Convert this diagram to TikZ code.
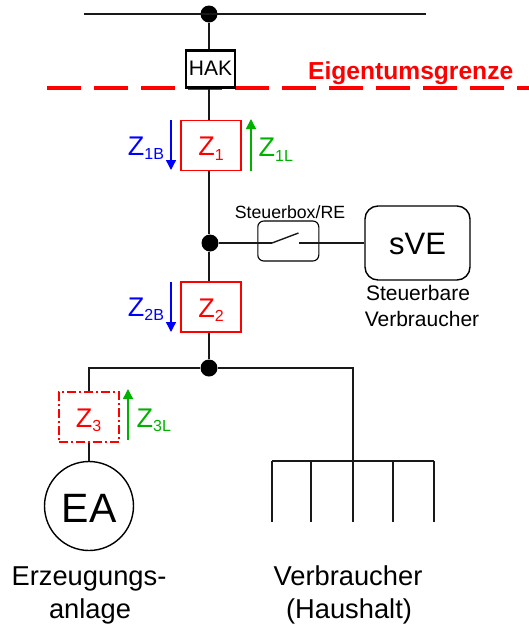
\documentclass[tikz,border=0pt]{standalone}
\usepackage{fontspec}
\setmainfont{Liberation Sans}
\usetikzlibrary{arrows.meta}

\newcommand{\fsize}[1]{\fontsize{#1}{#1}\selectfont}
\newcommand{\zname}[2]{\fsize{27}Z\raisebox{-4.5pt}{\fsize{16}#2}}

\begin{document}
\begin{tikzpicture}[x=1pt,y=-1pt,>={Triangle[length=10pt,width=10pt]},line width=1.4pt]
  \tikzset{every node/.style={font=\fsize{21},inner sep=0pt}}
  \tikzset{wire/.style={draw=black!90}}
  \tikzset{junction/.style={circle,fill=black,minimum size=17pt}}
  \tikzset{meter/.style={draw=red,line width=1.3pt,text=red,minimum width=60pt,minimum height=50pt,text height=20.5pt,text depth=0pt}}
  \tikzset{txt/.style={anchor=base}}
  \useasboundingbox (0,0) rectangle (529,625);

  % Eigentumsgrenze
  \coordinate (gridL) at (47,88);
  \coordinate (gridR) at (529,88);
  \draw[red,line width=4pt,dash pattern=on 34pt off 13pt] (gridL) -- (gridR);
  \node[txt,anchor=base west,text=red,font=\fsize{24.6}\bfseries] (border) at (307.5,79.5) {Eigentumsgrenze};

  % Hauptleitung
  \node[junction] (top) at (209,14) {};
  \coordinate (busL) at (84,14);
  \coordinate (busR) at (426,14);
  \node[draw,line width=2.4pt,minimum width=49pt,minimum height=37pt,text height=12pt,text depth=0pt] (hak) at (210.5,69) {HAK};
  \node[meter] (z1) at (211,145.5) {\zname{Z}{1}};
  \node[junction] (dota) at (210,243) {};
  \node[meter] (z2) at (211,307) {\zname{Z}{2}};
  \node[junction] (dotb) at (209,368) {};
  \path[wire] (busL) edge (busR);
  \path[wire] (top) edge (top |- hak.north);
  \path[wire] (top |- hak.south) edge (top |- z1.north);
  \path[wire] (top |- z1.south) edge (top |- dota.north);
  \path[wire] (top |- dota.south) edge (top |- z2.north);
  \path[wire] (top |- z2.south) edge (dotb);

  % Steuerbox
  \node[draw,rounded corners=6pt,line width=1.1pt,minimum width=61pt,minimum height=40pt] (box) at (288.3,241) {};
  \node[txt,font=\fsize{17.7}] (boxlabel) at (290,218) {Steuerbox/RE};
  \coordinate (swa) at (272,243);
  \coordinate (swb) at (298.5,233);
  \coordinate (swc) at (299,243);
  \node[draw,rounded corners=13pt,minimum width=105pt,minimum height=74pt,font=\fsize{31},text height=22pt,text depth=0pt] (sve) at (417.5,243) {sVE};
  \node[txt] (svetxta) at (418,300) {Steuerbare};
  \node[txt] (svetxtb) at (422,326) {Verbraucher};
  \path[wire] (dota) edge (swa);
  \path[wire] (swa) edge (swb);
  \path[wire] (swc) edge (sve.west);

  % Erzeugungsanlage
  \coordinate (cornerL) at (89,368);
  \coordinate (cornerR) at (353,368);
  \node[meter,dash pattern=on 9pt off 3pt on 2pt off 3pt,line width=2pt] (z3) at (88.5,417) {\zname{Z}{3}};
  \node[draw,circle,minimum size=89pt,font=\fsize{41},text height=33pt,text depth=0pt] (ea) at (89,506) {EA};
  \node[txt,font=\fsize{27.3}] (eatxta) at (89,585) {Erzeugungs-};
  \node[txt,font=\fsize{27.3}] (eatxtb) at (90,618) {anlage};
  \draw[wire] (dotb) -- (cornerL) -- (cornerL |- z3.north);
  \path[wire] (cornerL |- z3.south) edge (cornerL |- ea.north);

  % Verbraucher
  \coordinate (hha) at (272,461);
  \coordinate (hhb) at (311,461);
  \coordinate (hhc) at (353,461);
  \coordinate (hhd) at (393,461);
  \coordinate (hhe) at (434,461);
  \draw[wire] (dotb) -- (cornerR) -- (hhc);
  \draw[wire] (hha) -- (hhe);
  \foreach \hh in {hha,hhb,hhc,hhd,hhe}
    \draw[wire] (\hh) -- ++(0,61);
  \node[txt,font=\fsize{27.3}] (hhtxta) at (348,585) {Verbraucher};
  \node[txt,font=\fsize{27.3}] (hhtxtb) at (349,618) {(Haushalt)};

  % Lastrichtung
  \coordinate (za) at (171,120);
  \coordinate (zb) at (171,170);
  \coordinate (zc) at (251,171);
  \coordinate (zd) at (251,119);
  \coordinate (ze) at (171,282);
  \coordinate (zf) at (171,332);
  \coordinate (zg) at (128,440);
  \coordinate (zh) at (128,389);
  \path[->,blue] (za) edge (zb);
  \path[->,blue] (ze) edge (zf);
  \path[->,green!70!black] (zc) edge (zd);
  \path[->,green!70!black] (zg) edge (zh);
  \node[txt,text=blue] (z1b) at (146,155) {\zname{Z}{1B}};
  \node[txt,text=blue] (z2b) at (146,316) {\zname{Z}{2B}};
  \node[txt,anchor=base west,text=green!70!black] (z1l) at (258,156.5) {\zname{Z}{1L}};
  \node[txt,anchor=base west,text=green!70!black] (z3l) at (136,427) {\zname{Z}{3L}};
\end{tikzpicture}
\end{document}
